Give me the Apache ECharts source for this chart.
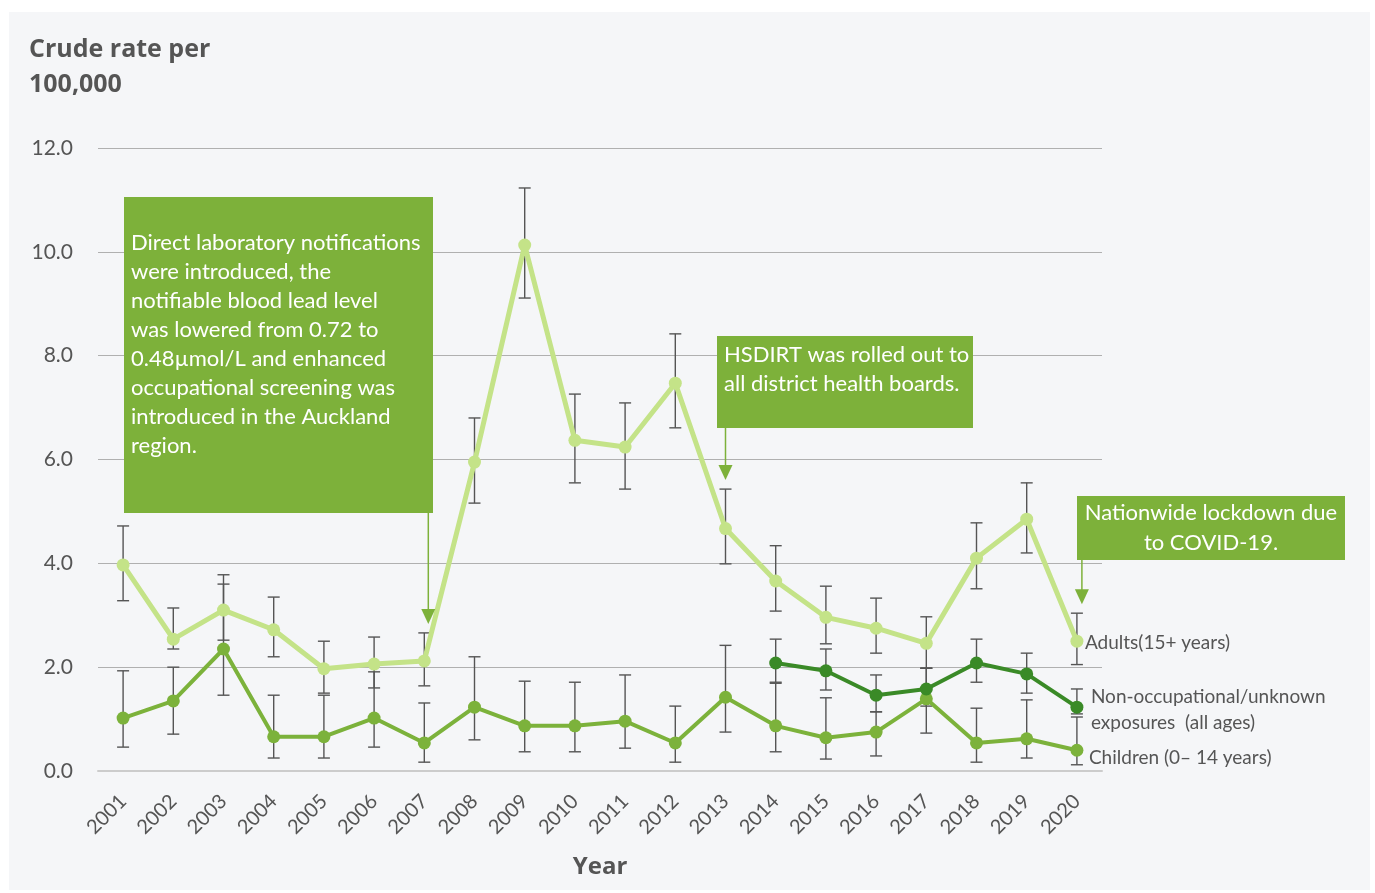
<!DOCTYPE html>
<html lang="en">
<head>
<meta charset="UTF-8">
<title>Blood lead crude rates</title>
<script src="https://cdn.jsdelivr.net/npm/echarts@6.0.0/dist/echarts.min.js"></script>
<style>
  html, body { margin: 0; padding: 0; background: #fff; }
  #panel { position: absolute; left: 9px; top: 12px; width: 1361px; height: 878px; background: #f5f6f8; }
  #chart { position: absolute; left: 0; top: 0; width: 1375px; height: 893px; }
</style>
</head>
<body>
<div id="panel"></div>
<div id="chart"></div>
<script>
// years on the x axis
var years = ['2001','2002','2003','2004','2005','2006','2007','2008','2009','2010',
             '2011','2012','2013','2014','2015','2016','2017','2018','2019','2020'];

// Adults (15+ years)
var adults     = [3.97,2.54,3.10,2.72,1.97,2.06,2.12,5.95,10.13,6.37,6.24,7.47,4.67,3.66,2.96,2.75,2.46,4.10,4.85,2.50];
var adultsLow  = [3.28,2.35,2.52,2.20,1.50,1.60,1.64,5.16,9.11,5.55,5.43,6.61,3.99,3.08,2.45,2.27,1.98,3.51,4.20,2.05];
var adultsHigh = [4.72,3.14,3.60,3.35,2.50,2.58,2.66,6.80,11.23,7.26,7.09,8.42,5.43,4.34,3.56,3.33,2.97,4.78,5.55,3.04];

// Children (0-14 years)
var children     = [1.02,1.35,2.35,0.66,0.66,1.02,0.54,1.23,0.87,0.87,0.96,0.54,1.42,0.87,0.64,0.75,1.39,0.54,0.62,0.40];
var childrenLow  = [0.46,0.71,1.46,0.25,0.25,0.46,0.17,0.60,0.37,0.37,0.44,0.17,0.75,0.37,0.23,0.29,0.73,0.17,0.25,0.12];
var childrenHigh = [1.93,2.00,3.78,1.46,1.46,1.91,1.31,2.20,1.73,1.71,1.85,1.25,2.42,1.69,1.41,1.14,1.98,1.21,1.37,1.04];

// Non-occupational / unknown exposures (all ages), from 2014
var nonOcc     = [null,null,null,null,null,null,null,null,null,null,null,null,null,2.08,1.93,1.46,1.58,2.08,1.87,1.23];
var nonOccLow  = [null,null,null,null,null,null,null,null,null,null,null,null,null,1.71,1.56,1.14,1.25,1.71,1.50,1.10];
var nonOccHigh = [null,null,null,null,null,null,null,null,null,null,null,null,null,2.54,2.35,1.85,1.98,2.54,2.27,1.58];

// annotations: year the arrow points at, and the text
var notes = [
  { year: '2007', text: 'Direct laboratory notifications\nwere introduced, the\nnotifiable blood lead level\nwas lowered from 0.72 to\n0.48µmol/L and enhanced\noccupational screening was\nintroduced in the Auckland\nregion.' },
  { year: '2013', text: 'HSDIRT was rolled out to\nall district health boards.' },
  { year: '2020', text: 'Nationwide lockdown due\nto COVID-19.' }
];

var FONT = 'Lato, "Noto Sans", sans-serif';
var BOLD = '"Open Sans", "Noto Sans", sans-serif';
var BOX = '#7db13a';

function errData(lo, hi) {
  var out = [];
  for (var i = 0; i < years.length; i++) {
    if (lo[i] != null) out.push([i, lo[i], hi[i]]);
  }
  return out;
}

function renderErr(params, api) {
  var lo = api.coord([api.value(0), api.value(1)]);
  var hi = api.coord([api.value(0), api.value(2)]);
  var w = 6;
  var st = { stroke: '#555', lineWidth: 1.4 };
  return {
    type: 'group',
    children: [
      { type: 'line', shape: { x1: lo[0], y1: lo[1], x2: hi[0], y2: hi[1] }, style: st },
      { type: 'line', shape: { x1: lo[0] - w, y1: lo[1], x2: lo[0] + w, y2: lo[1] }, style: st },
      { type: 'line', shape: { x1: hi[0] - w, y1: hi[1], x2: hi[0] + w, y2: hi[1] }, style: st }
    ]
  };
}

function errSeries(lo, hi) {
  return {
    type: 'custom',
    renderItem: renderErr,
    data: errData(lo, hi),
    encode: { x: 0, y: [1, 2] },
    z: 1,
    silent: true
  };
}

var chart = echarts.init(document.getElementById('chart'));

var option = {
  animation: false,
  textStyle: { fontFamily: FONT },
  title: {
    text: 'Crude rate per\n100,000',
    left: 24, top: 27,
    textStyle: { fontFamily: BOLD, fontSize: 25, fontWeight: 'bold', color: '#555', lineHeight: 35 }
  },
  grid: { left: 98, right: 273, top: 148, bottom: 122 },
  xAxis: {
    type: 'category',
    data: years,
    name: 'Year',
    nameLocation: 'middle',
    nameGap: 84,
    nameTextStyle: { fontFamily: BOLD, fontSize: 24, fontWeight: 'bold', color: '#555' },
    axisLine: { lineStyle: { color: '#cccccc', width: 2 } },
    axisTick: { alignWithLabel: true, length: 6, lineStyle: { color: '#cccccc' } },
    axisLabel: { rotate: 45, fontSize: 20, color: '#555', margin: 27 }
  },
  yAxis: {
    type: 'value',
    min: 0, max: 12, interval: 2,
    axisLine: { show: false },
    axisTick: { show: false },
    axisLabel: { fontSize: 21, color: '#555', margin: 25, formatter: function (v) { return v.toFixed(1); } },
    splitLine: { lineStyle: { color: '#b0b0b0', width: 1 } }
  },
  series: [
    errSeries(adultsLow, adultsHigh),
    errSeries(childrenLow, childrenHigh),
    errSeries(nonOccLow, nonOccHigh),
    {
      name: 'Adults(15+ years)',
      type: 'line',
      data: adults,
      symbol: 'circle', symbolSize: 13,
      lineStyle: { color: '#c4e388', width: 5 },
      itemStyle: { color: '#c4e388' },
      z: 3,
      endLabel: { show: true, formatter: 'Adults(15+ years)', color: '#555', fontSize: 19, distance: 8, offset: [0, 2] }
    },
    {
      name: 'Children',
      type: 'line',
      data: children,
      symbol: 'circle', symbolSize: 13,
      lineStyle: { color: '#7cb23b', width: 4 },
      itemStyle: { color: '#7cb23b' },
      z: 4,
      endLabel: { show: true, formatter: 'Children (0– 14 years)', color: '#555', fontSize: 19, distance: 12, offset: [0, 8] }
    },
    {
      name: 'Non-occupational',
      type: 'line',
      data: nonOcc,
      connectNulls: false,
      symbol: 'circle', symbolSize: 13,
      lineStyle: { color: '#3a8a27', width: 4 },
      itemStyle: { color: '#3a8a27' },
      z: 5,
      endLabel: { show: true, formatter: 'Non-occupational/unknown\nexposures  (all ages)', color: '#555', fontSize: 19, lineHeight: 26, distance: 14, offset: [0, 3] }
    }
  ]
};

chart.setOption(option);

// annotation boxes (layout) with arrows pointing at the upper error bar of that year
var boxes = [
  { x: 124, y: 197, w: 309, h: 316, tx: 131, ty: 228, align: 'left', lh: 29, dx: 4 },
  { x: 717, y: 336, w: 256, h: 92, tx: 724, ty: 340, align: 'left', lh: 29, dx: 0 },
  { x: 1077, y: 496, w: 268, h: 64, tx: 1211, ty: 498, align: 'center', lh: 30, dx: 5 }
];

var g = [];
notes.forEach(function (n, i) {
  var b = boxes[i];
  var idx = years.indexOf(n.year);
  var p = chart.convertToPixel({ xAxisIndex: 0, yAxisIndex: 0 }, [idx, adultsHigh[idx]]);
  var ax = p[0] + b.dx;
  var tip = p[1] - 9;
  g.push({ type: 'rect', shape: { x: b.x, y: b.y, width: b.w, height: b.h }, style: { fill: BOX }, z: 10 });
  g.push({
    type: 'text', z: 11,
    style: { x: b.tx, y: b.ty, text: n.text, fill: '#fff', font: '22px ' + FONT, lineHeight: b.lh, align: b.align, verticalAlign: 'top' }
  });
  g.push({ type: 'line', shape: { x1: ax, y1: b.y + b.h, x2: ax, y2: tip - 12 }, style: { stroke: BOX, lineWidth: 1.5 }, z: 10 });
  g.push({ type: 'polygon', shape: { points: [[ax - 7, tip - 15], [ax + 7, tip - 15], [ax, tip]] }, style: { fill: BOX }, z: 10 });
});
chart.setOption({ graphic: g });
</script>
</body>
</html>
